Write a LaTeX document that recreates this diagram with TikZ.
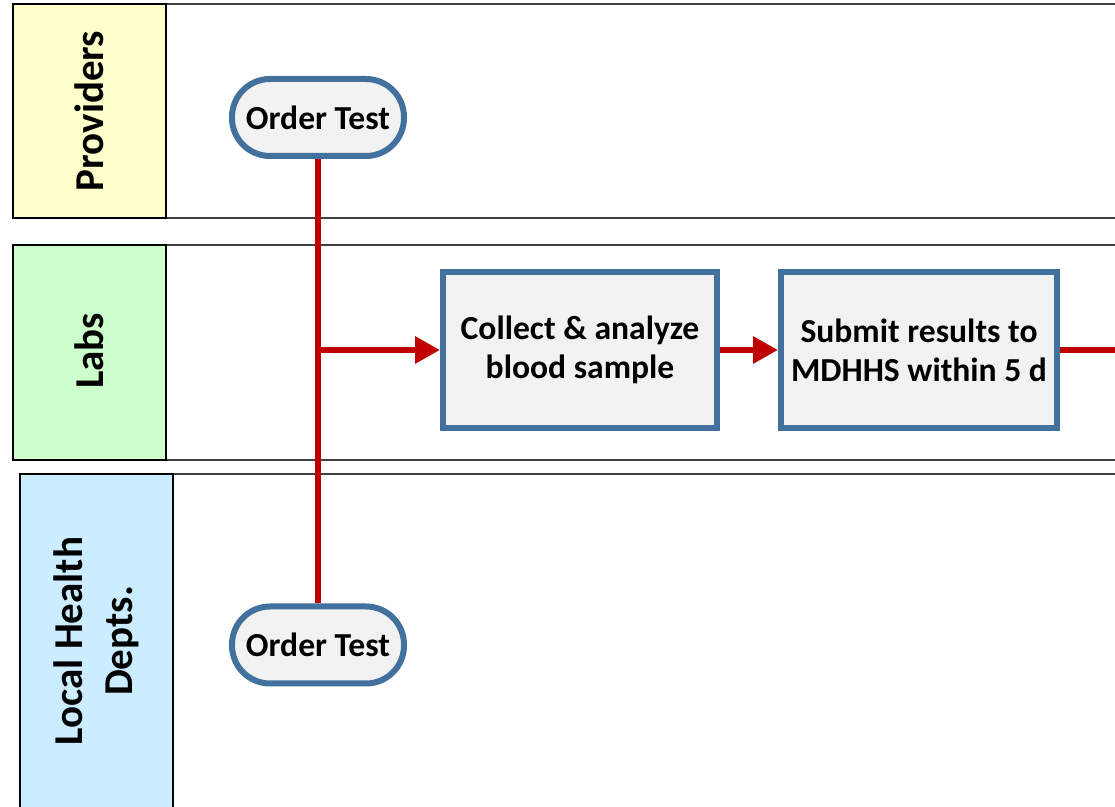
\documentclass[tikz,border=0pt]{standalone}
\usepackage{fontspec}
\setmainfont{Carlito}
\usetikzlibrary{arrows.meta}
\definecolor{shapeblue}{RGB}{65,113,156}
\definecolor{flowred}{RGB}{192,0,0}
\definecolor{provyellow}{RGB}{255,255,204}
\definecolor{labgreen}{RGB}{204,255,204}
\definecolor{lhdblue}{RGB}{204,236,255}
\definecolor{boxfill}{RGB}{242,242,242}
\begin{document}
\begin{tikzpicture}[x=0.5pt,y=-0.5pt,
  lanehead/.style={draw=black, line width=1pt},
  laneline/.style={draw=black!75, line width=1pt},
  lanetext/.style={rotate=90, align=center, font=\bfseries\fontsize{20.5}{25}\selectfont},
  term/.style={draw=shapeblue, line width=3pt, fill=boxfill, rounded corners=19pt,
    minimum width=86pt, minimum height=38.5pt, inner sep=0pt,
    font=\bfseries\fontsize{16.8}{19.5}\selectfont},
  proc/.style={draw=shapeblue, line width=3pt, fill=boxfill, minimum height=78pt,
    inner sep=0pt, align=center, font=\bfseries\fontsize{16.8}{19.5}\selectfont},
  flow/.style={draw=flowred, line width=3pt},
  flowarrow/.style={flow, -{Triangle[length=12.5pt,width=13pt]}}
]
\useasboundingbox (0,0) rectangle (1115,807);
\clip (0,0) rectangle (1115,807);
\fill[white] (0,0) rectangle (1115,807);

% Providers lane
\draw[laneline] (13,4) -- (1120,4);
\draw[laneline] (13,218) -- (1120,218);
\filldraw[lanehead, fill=provyellow] (13,4) rectangle (166,218);
\node[lanetext] (provlabel) at (89.5,111) {Providers};

% Labs lane
\draw[laneline] (13,245) -- (1120,245);
\draw[laneline] (13,460) -- (1120,460);
\filldraw[lanehead, fill=labgreen] (13,245) rectangle (166,460);
\node[lanetext] (lablabel) at (89.5,351) {Labs};

% Local health lane
\draw[laneline] (20,474) -- (1120,474);
\filldraw[lanehead, fill=lhdblue] (20,474) rectangle (173,830);
\node[lanetext] (lhdlabel) at (96,641) {Local Health\\Depts.};

% Nodes
\node[term] (ordA) at (318,117.5) {Order Test};
\node[term] (ordB) at (318,645) {Order Test};
\node[proc, minimum width=137pt] (collect) at (580,350) {Collect \& analyze\\blood sample};
\node[proc, minimum width=138pt] (submit) at (919,350) {Submit results to\\MDHHS within 5 d};
\coordinate (offpage) at (1120,350);
\coordinate (junction) at (ordA.south |- collect.west);

% Connectors
\draw[flow] (ordA.south) -- (ordB.north);
\draw[flowarrow] (junction) -- (collect.west);
\draw[flowarrow] (collect.east) -- (submit.west);
\draw[flow] (submit.east) -- (offpage);
\end{tikzpicture}
\end{document}
